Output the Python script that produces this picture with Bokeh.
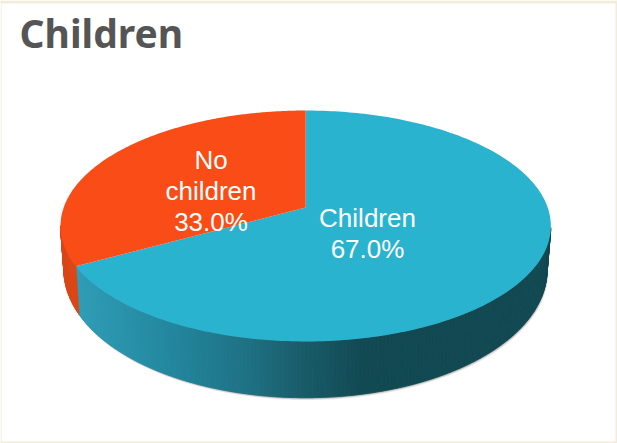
import numpy as np
from bokeh.plotting import figure
from bokeh.models import Range1d
from bokeh.core.properties import value
from bokeh.embed import file_html
from bokeh.resources import INLINE

categories = ["Children", "No\nchildren"]
shares = [67.0, 33.0]
title_text = "Children"

W, H = 617, 443
K = 0.16
TOP = dict(cx=305.2, y0=207.0, r=242.0, b=112.5)
BOT = dict(cx=305.0, y0=249.0, r=238.5, b=124.5)
TEAL, ORANGE, ORANGE_WALL = "#2AB3CF", "#F94C16", "#DC4616"
FRAME = "#F3ECD9"
GRAD_X = [62, 80, 170, 250, 300, 360, 400, 560]
GRAD_RGB = np.array([(48,160,184),(46,156,182),(34,135,158),(30,112,130),
                     (25,92,106),(18,74,84),(17,73,82),(17,73,82)], float)


def project(theta, d):
    u, v = np.sin(theta), np.cos(theta)
    q = 1 + K * v
    return d["cx"] + d["r"] * u / q, d["y0"] - d["b"] * v / q


def hexcol(x):
    return "#%02x%02x%02x" % tuple(int(round(np.interp(x, GRAD_X, GRAD_RGB[:, i]))) for i in range(3))


split = 2 * np.pi * shares[0] / sum(shares)

p = figure(width=W, height=H, x_range=Range1d(0, W), y_range=Range1d(H, 0),
           output_backend="svg", toolbar_location=None, min_border=0)
p.axis.visible = False
p.grid.visible = False
p.outline_line_color = None
p.background_fill_color = "white"
p.border_fill_color = "white"

# card frame
p.quad(left=[0, 0, 0, 615], right=[W, W, 1, W], top=[0, 441, 0, 0], bottom=[3, H, H, H],
       fill_color=FRAME, line_color=None)

# soft shadow under the base
full = np.linspace(np.radians(100), np.radians(260), 200)
bx, by = project(full, BOT)
for off, alpha in [(2.4, 0.10), (1.7, 0.16), (1.0, 0.22), (0.5, 0.30)]:
    p.patch(bx + off * 0.5, by + off, fill_color="#555555", fill_alpha=alpha, line_color=None)

# side wall
xs, ys, cols = [], [], []
edges = np.concatenate([np.linspace(np.radians(100), split, 170),
                        np.linspace(split, np.radians(261), 30)[1:]])
for a, b in zip(edges[:-1], edges[1:]):
    x1, y1 = project(np.array([a, b]), TOP)
    x2, y2 = project(np.array([b, a]), BOT)
    xs.append(np.concatenate([x1, x2]))
    ys.append(np.concatenate([y1, y2]))
    cols.append(hexcol(x1.mean()) if a < split - 1e-9 else ORANGE_WALL)
p.patches(xs, ys, fill_color=cols, line_color=cols, line_width=0.8)

# top faces, one wedge per share
start = 0.0
for share, col in zip(shares, [TEAL, ORANGE]):
    stop = start + 2 * np.pi * share / sum(shares)
    t = np.linspace(start, stop, 240)
    ex, ey = project(t, TOP)
    ax, ay = TOP["cx"], TOP["y0"]
    p.patch(np.r_[ax, ex], np.r_[ay, ey], fill_color=col, line_color=None)
    start = stop

label_font = value("Liberation Sans")
kw = dict(text_font=label_font, text_font_size="26px", text_color="white",
          text_align="center", text_baseline="middle")
p.text(x=[210.5, 210.5, 210.5], y=[159, 190, 221],
       text=categories[1].split("\n") + [f"{shares[1]:.1f}%"], **kw)
p.text(x=[367, 367], y=[217, 248], text=[categories[0], f"{shares[0]:.1f}%"], **kw)
p.text(x=[19], y=[32], text=[title_text], text_font=value("Noto Sans"), text_font_style="bold",
       text_font_size="39px", text_color="#555555", text_align="left", text_baseline="middle")

html = file_html(p, INLINE)
html = html.replace("<body>", '<body style="margin:0">', 1)
open("out.html", "w").write(html)
